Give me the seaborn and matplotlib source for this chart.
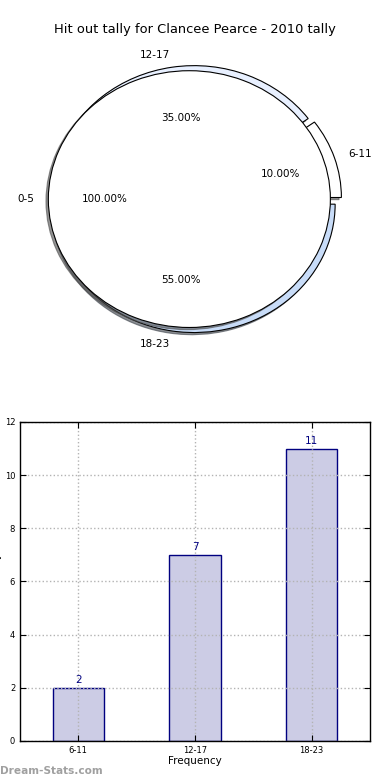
import matplotlib
matplotlib.use("Agg")
import matplotlib.pyplot as plt
import seaborn as sns
import pandas as pd

# data
title = "Hit out tally for Clancee Pearce - 2010 tally"
first_group = ["0-5"]
first_value = [1]
groups = ["6-11", "12-17", "18-23"]
tally = [2, 7, 11]
pie_colors = ["#ffffff", "#e8f0ff", "#c8dcf8"]

df = pd.DataFrame({"group": groups, "tally": tally})

fig = plt.figure(figsize=(3.9, 7.8), dpi=100)

shadow = {"ox": -0.012, "oy": -0.012, "alpha": 0.6}

# pie (top)
ax1 = fig.add_axes([0.048, 0.539, 0.904, 0.4115])
ax1.pie(df["tally"], labels=df["group"], colors=pie_colors, explode=[0.04] * len(groups),
        autopct="%.2f%%", pctdistance=0.6, labeldistance=1.1, startangle=0, shadow=shadow,
        wedgeprops={"edgecolor": "black", "linewidth": 0.8},
        textprops={"fontsize": 7.5, "zorder": 5})
ax1.pie(first_value, labels=first_group, colors=["white"], explode=[0.04],
        autopct="%.2f%%", pctdistance=0.6, labeldistance=1.1, startangle=0, shadow=shadow,
        wedgeprops={"edgecolor": "black", "linewidth": 0.8, "zorder": 3},
        textprops={"fontsize": 7.5, "zorder": 5})
ax1.set_aspect("auto")
ax1.set_xlim(-1.25, 1.25)
ax1.set_ylim(-1.25, 1.25)
ax1.set_title(title, fontsize=9.4, pad=4)

# bars (bottom)
ax2 = fig.add_axes([0.0513, 0.05, 0.897, 0.409])
sns.barplot(data=df, x="group", y="tally", ax=ax2, width=0.44, saturation=1, color="navy")
for p in ax2.patches:
    p.set_facecolor((0, 0, 0.5, 0.2))
    p.set_edgecolor("navy")
    p.set_linewidth(1)
for i, v in enumerate(df["tally"]):
    ax2.text(i, v + 0.1, str(v), ha="center", va="bottom", color="navy", fontsize=7.5)

ax2.set_xlim(-0.5, 2.5)
ax2.set_ylim(0, 12)
ax2.set_yticks(range(0, 13, 2))
ax2.tick_params(direction="in", top=True, right=True, labelsize=6, length=4, width=0.8)
ax2.grid(True, linestyle=":", color="0.7", linewidth=1)
ax2.set_axisbelow("line")
for s in ax2.spines.values():
    s.set_linewidth(1)
ax2.set_xlabel("Frequency", fontsize=7.5, labelpad=1)
ax2.set_ylabel("Hitout Tally", fontsize=7.5, labelpad=2)

fig.text(0.0, 0.008, "Dream-Stats.com", fontsize=7.6, fontweight="bold", color="#a0a0a0")

fig.savefig("out.png", dpi=100)
